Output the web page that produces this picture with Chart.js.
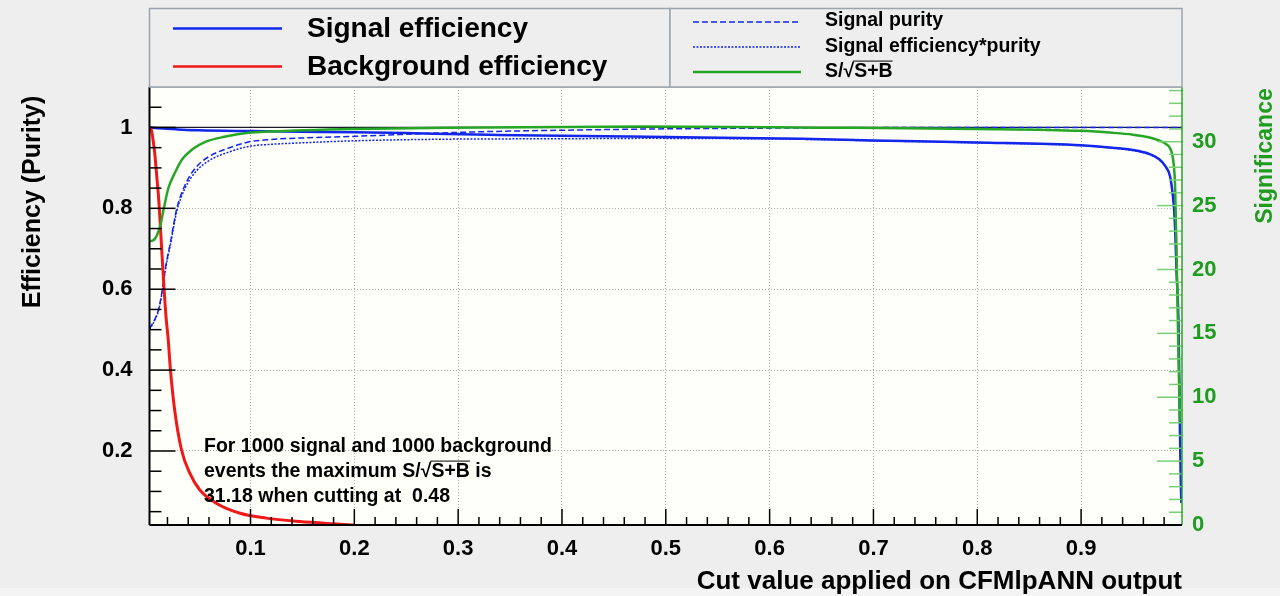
<!DOCTYPE html>
<html>
<head>
<meta charset="utf-8">
<script src="https://cdn.jsdelivr.net/npm/chart.js@4.4.1/dist/chart.umd.min.js"></script>
<style>
  html, body { margin: 0; padding: 0; background: #eeeeee; }
  #c { display: block; }
</style>
</head>
<body>
<canvas id="c" width="1280" height="596"></canvas>
<script>
// --- values ---
const effCut = [0.0027, 0.006, 0.012, 0.02, 0.03, 0.05, 0.1, 0.15, 0.2, 0.25, 0.29, 0.33, 0.376, 0.42, 0.467, 0.535, 0.631, 0.7, 0.8, 0.9, 0.93, 0.95, 0.965, 0.975, 0.981, 0.9856, 0.988, 0.9898, 0.991, 0.992, 0.9937, 0.9945, 0.9952, 0.996, 0.9965];
const effVal = [1.0, 0.999, 0.998, 0.997, 0.995, 0.993, 0.991, 0.9895, 0.988, 0.986, 0.984, 0.982, 0.980, 0.979, 0.9775, 0.975, 0.972, 0.968, 0.963, 0.956, 0.950, 0.944, 0.935, 0.922, 0.905, 0.88, 0.84, 0.79, 0.72, 0.64, 0.53, 0.40, 0.25, 0.13, 0.072];

const bkgCut = [0.0027, 0.004, 0.0052, 0.0065, 0.0078, 0.009, 0.010, 0.0112, 0.0123, 0.0142, 0.0165, 0.0187, 0.0206, 0.0229, 0.027, 0.0335, 0.0415, 0.051, 0.067, 0.090, 0.115, 0.1475, 0.18, 0.2];
const bkgVal = [1.0, 0.997, 0.985, 0.962, 0.935, 0.90, 0.87, 0.835, 0.793, 0.710, 0.611, 0.529, 0.48, 0.40, 0.30, 0.203, 0.145, 0.104, 0.071, 0.046, 0.034, 0.0255, 0.0198, 0.0168];

const purCut = [0.0027, 0.0084, 0.0117, 0.0148, 0.018, 0.023, 0.029, 0.037, 0.047, 0.060, 0.079, 0.098, 0.118, 0.15, 0.2, 0.25, 0.29, 0.35, 0.41, 0.48, 0.58, 0.7, 0.85, 0.9965];
const purVal = [0.502, 0.529, 0.553, 0.595, 0.652, 0.718, 0.800, 0.858, 0.900, 0.928, 0.949, 0.964, 0.970, 0.974, 0.978, 0.983, 0.987, 0.991, 0.9935, 0.996, 0.998, 0.9995, 1.0, 1.0];

const epCut = [0.0027, 0.0084, 0.0117, 0.0148, 0.018, 0.023, 0.029, 0.037, 0.047, 0.060, 0.079, 0.098, 0.118, 0.15, 0.2, 0.29, 0.4, 0.48, 0.58, 0.647, 0.7, 0.8, 0.9, 0.93, 0.95, 0.965, 0.975, 0.981, 0.9856, 0.988, 0.9898, 0.991, 0.992, 0.9937, 0.9945, 0.9952, 0.996, 0.9965];
const epVal = [0.500, 0.527, 0.550, 0.591, 0.647, 0.712, 0.793, 0.850, 0.890, 0.918, 0.939, 0.953, 0.958, 0.962, 0.967, 0.971, 0.972, 0.973, 0.972, 0.970, 0.967, 0.962, 0.955, 0.949, 0.943, 0.934, 0.921, 0.904, 0.879, 0.839, 0.789, 0.719, 0.639, 0.529, 0.40, 0.25, 0.13, 0.072];

const sigCut = [0.0027, 0.0068, 0.010, 0.0133, 0.0165, 0.021, 0.028, 0.034, 0.044, 0.057, 0.076, 0.098, 0.118, 0.2, 0.29, 0.48, 0.647, 0.8, 0.9, 0.93, 0.95, 0.965, 0.975, 0.981, 0.9856, 0.9888, 0.9905, 0.992, 0.9937, 0.9952];
const sigVal = [22.2, 22.3, 22.7, 23.5, 24.8, 26.4, 27.7, 28.6, 29.4, 30.0, 30.4, 30.7, 30.8, 31.0, 31.1, 31.18, 31.1, 31.0, 30.85, 30.7, 30.55, 30.35, 30.1, 29.85, 29.5, 28.5, 26.6, 21.4, 13.6, 8.1];

const xTicks = [0.1, 0.2, 0.3, 0.4, 0.5, 0.6, 0.7, 0.8, 0.9];
const yTicks = [0.2, 0.4, 0.6, 0.8, 1];
const sigTicks = [0, 5, 10, 15, 20, 25, 30];

const noteLines = ['For 1000 signal and 1000 background', 'events the maximum S/', '31.18 when cutting at  0.48'];

// --- styling ---
const FONT = "'Liberation Sans', Arial, Helvetica, sans-serif";
const BLUE = '#1226ec';
const RED = '#f01818';
const GREEN = '#26a626';
const GREEN_TXT = '#1f9c1f';

const pts = (xs, ys) => xs.map((x, i) => ({ x: x, y: ys[i] }));

// draws "S/√S+B" with a bar over S+B, returns end x
function drawSqrtSB(ctx, x, y, size) {
    ctx.fillText('S/', x, y);
    x += ctx.measureText('S/').width;
    ctx.fillText('\u221A', x, y);
    x += ctx.measureText('\u221A').width;
    const w = ctx.measureText('S+B').width;
    ctx.fillText('S+B', x, y);
    ctx.save();
    ctx.lineWidth = 1;
    ctx.strokeStyle = ctx.fillStyle;
    ctx.beginPath();
    ctx.moveTo(x - 1, y - size * 0.56);
    ctx.lineTo(x + w, y - size * 0.56);
    ctx.stroke();
    ctx.restore();
    return x + w;
}

function seg(ctx, x1, y1, x2, y2) {
    ctx.beginPath();
    ctx.moveTo(x1, y1);
    ctx.lineTo(x2, y2);
    ctx.stroke();
}

const rootLook = {
    id: 'rootLook',
    beforeDraw(chart) {
        const { ctx, chartArea: a } = chart;
        ctx.save();
        ctx.fillStyle = '#eeeeee';
        ctx.fillRect(0, 0, chart.width, chart.height);
        ctx.fillStyle = '#f4f4f4';
        ctx.fillRect(0, 588, chart.width, chart.height - 588);
        ctx.fillStyle = '#fffffa';
        ctx.fillRect(a.left, a.top, a.right - a.left, a.bottom - a.top);
        ctx.restore();
    },
    beforeDatasetsDraw(chart) {
        // the reference line at efficiency = 1
        const { ctx, chartArea: a } = chart;
        const py = chart.scales.y.getPixelForValue(1);
        ctx.save();
        ctx.strokeStyle = '#1a1a2a';
        ctx.lineWidth = 1.2;
        seg(ctx, a.left, py, a.right, py);
        ctx.restore();
    },
    afterDatasetsDraw(chart) {
        const { ctx, chartArea: a } = chart;
        const sx = chart.scales.x, sy = chart.scales.y, s2 = chart.scales.y2;
        ctx.save();

        // ticks pointing inwards, like ROOT
        ctx.lineWidth = 1.5;
        ctx.strokeStyle = '#000';
        for (let i = 1; i < 50; i++) {
            const px = sx.getPixelForValue(i * 0.02);
            if (px <= a.left || px >= a.right) continue;
            seg(ctx, px, a.bottom, px, a.bottom - (i % 5 === 0 ? 16 : 8));
        }
        for (let i = 1; i <= 22; i++) {
            const py = sy.getPixelForValue(i * 0.05);
            if (py <= a.top || py >= a.bottom) continue;
            seg(ctx, a.left, py, a.left + (i % 4 === 0 ? 26 : 12), py);
        }
        ctx.strokeStyle = '#78cf78';
        for (let i = 1; i <= 34; i++) {
            const py = s2.getPixelForValue(i);
            seg(ctx, a.right, py, a.right - (i % 5 === 0 ? 25 : 13), py);
        }

        // frame
        ctx.strokeStyle = '#9aa0aa';
        ctx.lineWidth = 1.5;
        seg(ctx, a.left, a.top, a.right, a.top);
        ctx.strokeStyle = GREEN;
        seg(ctx, a.right, a.top, a.right, a.bottom);
        ctx.strokeStyle = '#000';
        ctx.lineWidth = 2;
        seg(ctx, a.left, a.top, a.left, a.bottom);
        seg(ctx, a.left, a.bottom, a.right, a.bottom);

        // note text
        const ns = 19.5;
        ctx.fillStyle = '#000';
        ctx.font = 'bold ' + ns + 'px ' + FONT;
        ctx.textBaseline = 'middle';
        ctx.textAlign = 'left';
        ctx.fillText(noteLines[0], 204, 447);
        let ex = 204;
        ctx.fillText(noteLines[1], ex, 472);
        ex += ctx.measureText(noteLines[1]).width;
        ctx.fillText('\u221A', ex, 472);
        ex += ctx.measureText('\u221A').width;
        const w = ctx.measureText('S+B').width;
        ctx.fillText('S+B', ex, 472);
        ctx.lineWidth = 1;
        seg(ctx, ex - 1, 472 - ns * 0.56, ex + w, 472 - ns * 0.56);
        ctx.fillText(' is', ex + w, 472);
        ctx.fillText(noteLines[2], 204, 497);
        ctx.restore();
    },
    afterDraw(chart) {
        const ctx = chart.ctx;
        ctx.save();

        // legend boxes
        ctx.fillStyle = '#eeeeee';
        ctx.strokeStyle = '#9ea4ad';
        ctx.lineWidth = 1.5;
        ctx.fillRect(149.5, 8.5, 520.5, 78.5);
        ctx.strokeRect(149.5, 8.5, 520.5, 78.5);
        ctx.fillRect(670, 8.5, 512, 78.5);
        ctx.strokeRect(670, 8.5, 512, 78.5);

        ctx.lineWidth = 2.5;
        ctx.strokeStyle = BLUE;
        seg(ctx, 173, 28.5, 282, 28.5);
        ctx.strokeStyle = RED;
        seg(ctx, 173, 66.5, 282, 66.5);

        ctx.fillStyle = '#000';
        ctx.textBaseline = 'middle';
        ctx.textAlign = 'left';
        ctx.font = 'bold 28px ' + FONT;
        ctx.fillText('Signal efficiency', 307, 29);
        ctx.fillText('Background efficiency', 307, 67);

        ctx.lineWidth = 1.5;
        ctx.strokeStyle = BLUE;
        ctx.setLineDash([6, 3]);
        seg(ctx, 693, 22, 801, 22);
        ctx.setLineDash([2, 1.5]);
        seg(ctx, 693, 47, 801, 47);
        ctx.setLineDash([]);
        ctx.lineWidth = 2.5;
        ctx.strokeStyle = GREEN;
        seg(ctx, 693, 72, 801, 72);

        ctx.font = 'bold 19.5px ' + FONT;
        ctx.fillText('Signal purity', 825, 21);
        ctx.fillText('Signal efficiency*purity', 825, 47);
        drawSqrtSB(ctx, 825, 72, 19.5);

        // axis titles
        ctx.font = 'bold 26px ' + FONT;
        ctx.textAlign = 'right';
        ctx.fillText('Cut value applied on CFMlpANN output', 1182, 582);

        ctx.textAlign = 'center';
        ctx.save();
        ctx.translate(33, 202);
        ctx.rotate(-Math.PI / 2);
        ctx.font = 'bold 25px ' + FONT;
        ctx.fillText('Efficiency (Purity)', 0, 0);
        ctx.restore();

        ctx.save();
        ctx.translate(1266, 156);
        ctx.rotate(-Math.PI / 2);
        ctx.font = 'bold 23px ' + FONT;
        ctx.fillStyle = GREEN_TXT;
        ctx.fillText('Significance', 0, 0);
        ctx.restore();

        ctx.restore();
    }
};

const tickFont = { family: FONT, size: 22, weight: 'bold' };

new Chart(document.getElementById('c'), {
    type: 'line',
    data: {
        datasets: [
            { label: 'S/sqrt(S+B)', data: pts(sigCut, sigVal), yAxisID: 'y2', borderColor: GREEN, borderWidth: 2.5 },
            { label: 'Background efficiency', data: pts(bkgCut, bkgVal), yAxisID: 'y', borderColor: RED, borderWidth: 3 },
            { label: 'Signal efficiency', data: pts(effCut, effVal), yAxisID: 'y', borderColor: BLUE, borderWidth: 2.5 },
            { label: 'Signal efficiency*purity', data: pts(epCut, epVal), yAxisID: 'y', borderColor: BLUE, borderWidth: 1.5, borderDash: [2, 1.5] },
            { label: 'Signal purity', data: pts(purCut, purVal), yAxisID: 'y', borderColor: BLUE, borderWidth: 1.5, borderDash: [6, 3] }
        ]
    },
    options: {
        responsive: false,
        animation: false,
        devicePixelRatio: 1,
        layout: { padding: { top: 87, left: 0, right: 0, bottom: 0 } },
        plugins: { legend: { display: false }, tooltip: { enabled: false } },
        elements: {
            point: { radius: 0 },
            line: { cubicInterpolationMode: 'monotone', borderJoinStyle: 'round', fill: false }
        },
        scales: {
            x: {
                type: 'linear',
                min: 0.0027,
                max: 0.9972,
                afterBuildTicks: s => { s.ticks = xTicks.map(v => ({ value: v })); },
                afterFit: s => { s.height = 71; },
                grid: { color: '#a8a8a8', lineWidth: 1, drawTicks: false },
                border: { display: false, dash: [1, 2] },
                ticks: { padding: 11, color: '#000', font: tickFont, maxRotation: 0, autoSkip: false, callback: v => v.toFixed(1) }
            },
            y: {
                position: 'left',
                min: 0.017,
                max: 1.1,
                afterBuildTicks: s => { s.ticks = yTicks.map(v => ({ value: v })); },
                afterFit: s => { s.width = 149.5; },
                grid: { color: '#a8a8a8', lineWidth: 1, drawTicks: false },
                border: { display: false, dash: [1, 2] },
                ticks: { padding: 17, color: '#000', font: tickFont, autoSkip: false, callback: v => (v === 1 ? '1' : v.toFixed(1)) }
            },
            y2: {
                position: 'right',
                min: 0,
                max: 34.28,
                afterBuildTicks: s => { s.ticks = sigTicks.map(v => ({ value: v })); },
                afterFit: s => { s.width = 98; },
                grid: { display: false, drawTicks: false },
                border: { display: false },
                ticks: { padding: 10, color: GREEN_TXT, font: tickFont, autoSkip: false, callback: v => String(v) }
            }
        }
    },
    plugins: [rootLook]
});
</script>
</body>
</html>
